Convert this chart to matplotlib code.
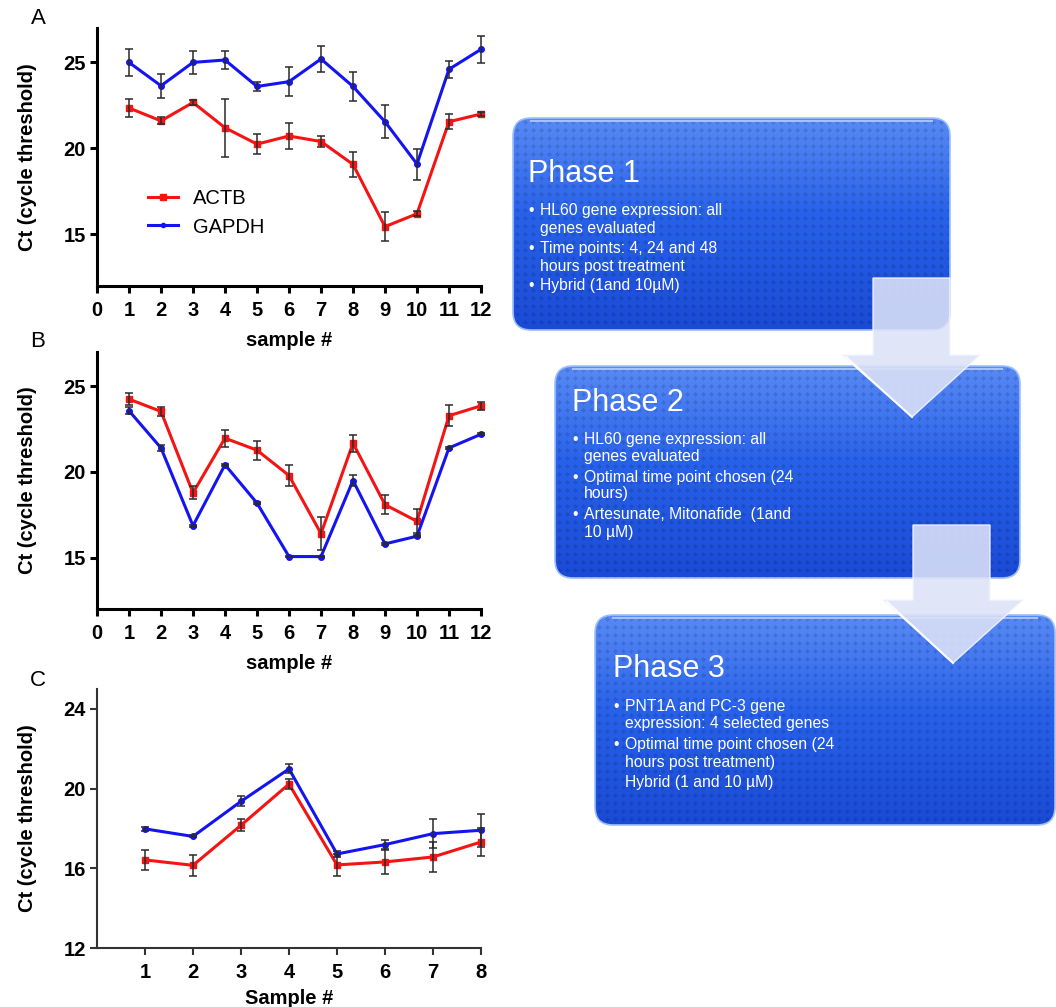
import numpy as np
import matplotlib
matplotlib.use("Agg")
import matplotlib.pyplot as plt
from matplotlib.patches import FancyBboxPatch, Polygon
from matplotlib.lines import Line2D

plt.rcParams['font.family'] = ['Liberation Sans', 'DejaVu Sans']

# ---------------- data ----------------
samples_12 = np.arange(1, 13)
samples_8 = np.arange(1, 9)

# Panel A
a_actb = [22.35, 21.6, 22.67, 21.2, 20.25, 20.72, 20.4, 19.07, 15.45, 16.2, 21.55, 22.0]
a_actb_err = [0.5, 0.2, 0.15, 1.7, 0.6, 0.77, 0.3, 0.73, 0.85, 0.15, 0.45, 0.1]
a_gapdh = [25.0, 23.64, 25.0, 25.14, 23.6, 23.88, 25.2, 23.6, 21.55, 19.09, 24.6, 25.76]
a_gapdh_err = [0.8, 0.7, 0.65, 0.5, 0.28, 0.85, 0.75, 0.85, 0.95, 0.9, 0.5, 0.77]

# Panel B
b_actb = [24.25, 23.53, 18.78, 21.97, 21.27, 19.79, 16.4, 21.68, 18.09, 17.12, 23.28, 23.86]
b_actb_err = [0.37, 0.26, 0.38, 0.5, 0.55, 0.6, 0.97, 0.5, 0.55, 0.7, 0.6, 0.25]
b_gapdh = [23.57, 21.4, 16.86, 20.42, 18.18, 15.06, 15.06, 19.5, 15.8, 16.25, 21.4, 22.2]
b_gapdh_err = [0.2, 0.15, 0.05, 0.05, 0.05, 0.05, 0.05, 0.3, 0.05, 0.05, 0.05, 0.05]

# Panel C
c_actb = [16.42, 16.15, 18.16, 20.23, 16.17, 16.32, 16.57, 17.32]
c_actb_err = [0.5, 0.53, 0.3, 0.27, 0.57, 0.63, 0.75, 0.7]
c_gapdh = [17.98, 17.6, 19.36, 20.99, 16.72, 17.19, 17.74, 17.91]
c_gapdh_err = [0.1, 0.05, 0.25, 0.23, 0.15, 0.25, 0.73, 0.83]

gene_labels = ["ACTB", "GAPDH"]

phase_titles = ["Phase 1", "Phase 2", "Phase 3"]
phase_lines = [
    [("•", "HL60 gene expression: all"), ("", "genes evaluated"),
     ("•", "Time points: 4, 24 and 48"), ("", "hours post treatment"),
     ("•", "Hybrid (1and 10µM)")],
    [("•", "HL60 gene expression: all"), ("", "genes evaluated"),
     ("•", "Optimal time point chosen (24"), ("", "hours)"),
     ("•", "Artesunate, Mitonafide  (1and"), ("", "10 µM)")],
    [("•", "PNT1A and PC-3 gene"), ("", "expression: 4 selected genes"),
     ("•", "Optimal time point chosen (24"), ("", "hours post treatment)"),
     ("", "Hybrid (1 and 10 µM)")],
]

# ---------------- figure ----------------
W, H = 1056, 1007
fig = plt.figure(figsize=(W / 100, H / 100), dpi=100)

RED = '#f51414'
BLUE = '#1414f0'
ERR = '#2a2a2a'


def fx(px):
    return px / W


def fy(py):
    return 1 - py / H


def panel(rect, x, actb, actb_err, gapdh, gapdh_err, ylim, yticks, xticks,
          xlabel, spine_w, spine_c, xlabelpad):
    ax = fig.add_axes(rect)
    ax.plot(x, actb, color=RED, lw=2.2, marker='s', ms=5, zorder=3, clip_on=False)
    ax.plot(x, gapdh, color=BLUE, lw=2.2, marker='o', ms=4, zorder=3, clip_on=False)
    ax.errorbar(x, actb, yerr=actb_err, fmt='none', ecolor=ERR, elinewidth=1.1,
                capsize=3.2, capthick=1.1, zorder=4, clip_on=False)
    ax.errorbar(x, gapdh, yerr=gapdh_err, fmt='none', ecolor=ERR, elinewidth=1.1,
                capsize=3.2, capthick=1.1, zorder=4, clip_on=False)
    ax.set_xlim(0, x[-1])
    ax.set_ylim(*ylim)
    ax.set_xticks(xticks)
    ax.set_yticks(yticks)
    for s in ('top', 'right'):
        ax.spines[s].set_visible(False)
    for s in ('left', 'bottom'):
        ax.spines[s].set_linewidth(spine_w)
        ax.spines[s].set_color(spine_c)
    ax.tick_params(width=spine_w, length=5, color=spine_c, labelsize=14.5)
    ax.tick_params(axis='x', pad=6)
    ax.tick_params(axis='y', pad=3)
    for lab in ax.get_xticklabels() + ax.get_yticklabels():
        lab.set_fontweight('bold')
    ax.set_xlabel(xlabel, fontsize=14.5, fontweight='bold', labelpad=xlabelpad)
    ax.set_ylabel("Ct (cycle threshold)", fontsize=14.5, fontweight='bold')
    ax.yaxis.set_label_coords(-0.155, 0.5)
    ax.patch.set_alpha(0)
    return ax


axA = panel([fx(97), fy(286), fx(384), (286 - 28) / H], samples_12,
            a_actb, a_actb_err, a_gapdh, a_gapdh_err, (12, 27), [15, 20, 25],
            range(0, 13), "sample #", 2.2, 'black', 8)
axB = panel([fx(97), fy(609), fx(384), (609 - 352) / H], samples_12,
            b_actb, b_actb_err, b_gapdh, b_gapdh_err, (12, 27), [15, 20, 25],
            range(0, 13), "sample #", 2.2, 'black', 8)
axC = panel([fx(97), fy(948), fx(384), (948 - 689) / H], samples_8,
            c_actb, c_actb_err, c_gapdh, c_gapdh_err, (12, 25), [12, 16, 20, 24],
            range(1, 9), "Sample #", 1.5, '#333333', 5)

handles = [Line2D([], [], color=RED, lw=2.2, marker='s', ms=4),
           Line2D([], [], color=BLUE, lw=2.2, marker='o', ms=3)]
axA.legend(handles, gene_labels, loc='center left', frameon=False,
           bbox_to_anchor=((148 - 97) / 384, (286 - 213) / 258),
           borderpad=0, borderaxespad=0, handlelength=1.5, handletextpad=0.75,
           labelspacing=0.45, fontsize=14.5)

for letter, (px, py) in zip("ABC", [(38, 18), (38, 342), (38, 680)]):
    fig.text(fx(px), fy(py), letter, fontsize=16, ha='center', va='center')

# ---------------- flowchart ----------------
fc = fig.add_axes([0, 0, 1, 1], zorder=-1)
fc.set_xlim(0, W)
fc.set_ylim(H, 0)
fc.axis('off')

top_c = np.array([88, 138, 246]) / 255
mid_c = np.array([40, 98, 234]) / 255
bot_c = np.array([26, 74, 214]) / 255


def draw_box(x0, y0, x1, y1, r=18):
    w, h = int(x1 - x0), int(y1 - y0)
    t = np.linspace(0, 1, h)[:, None, None]
    grad = np.where(t < 0.45, top_c + (mid_c - top_c) * (t / 0.45),
                    mid_c + (bot_c - mid_c) * ((t - 0.45) / 0.55))
    img = np.repeat(grad, w, axis=1)
    yy, xx = np.mgrid[0:h, 0:w]
    dots = ((xx % 8) - 4) ** 2 + ((yy % 8) - 4) ** 2 < 5
    img = img * np.where(dots, 0.88, 1.0)[:, :, None]
    patch = FancyBboxPatch((x0, y0), x1 - x0, y1 - y0,
                           boxstyle=f"round,pad=0,rounding_size={r}",
                           facecolor='none', edgecolor='#9cc0ff', lw=1.2, zorder=2)
    fc.add_patch(patch)
    im = fc.imshow(np.clip(img, 0, 1), extent=(x0, x1, y1, y0), aspect='auto',
                   interpolation='bilinear', zorder=1)
    im.set_clip_path(patch)
    fc.plot([x0 + r, x1 - r], [y0 + 2.5, y0 + 2.5], color='#b8d2ff', lw=1.5,
            alpha=0.8, zorder=2)


def draw_arrow(sx0, sx1, stop, hy, hx0, hx1, tx, ty):
    pts = [(sx0, stop), (sx1, stop), (sx1, hy), (hx1, hy), (tx, ty),
           (hx0, hy), (sx0, hy)]
    fc.add_patch(Polygon(pts, closed=True, facecolor='#dde2f8', edgecolor='#f4f6ff',
                         lw=1.0, alpha=0.88, zorder=5))
    fc.plot([hx0 + 4, tx], [hy + 2, ty], color='white', lw=1.5, alpha=0.9, zorder=6)


boxes = [(513, 118, 950, 330), (555, 366, 1020, 578), (595, 615, 1055, 825)]
for b in boxes:
    draw_box(*b)

draw_arrow(873, 950, 278, 355, 842, 980, 912, 417)
draw_arrow(913, 990, 525, 600, 883, 1023, 953, 663)

title_pos = [(528, 182), (572, 411), (613, 677)]
line_base = [[215, 233, 253, 271, 290],
             [444, 461, 482, 498, 519, 537],
             [711, 728, 749, 767, 787]]
for title, (tx, ty), lines, bases in zip(phase_titles, title_pos, phase_lines, line_base):
    fc.text(tx, ty, title, color='white', fontsize=22, va='baseline', ha='left', zorder=7)
    for (bullet, txt), by in zip(lines, bases):
        if bullet:
            fc.text(tx, by, bullet, color='white', fontsize=11.3, va='baseline',
                    ha='left', zorder=7)
        fc.text(tx + 12, by, txt, color='white', fontsize=11.3, va='baseline',
                ha='left', zorder=7)

fig.savefig("out.png", dpi=100)
